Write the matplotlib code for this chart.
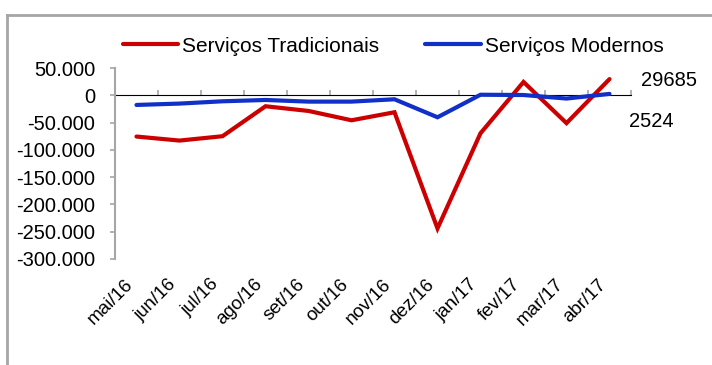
import matplotlib.pyplot as plt
from matplotlib.lines import Line2D

plt.rcParams["font.family"] = ["Liberation Sans", "DejaVu Sans"]

months = ["mai/16", "jun/16", "jul/16", "ago/16", "set/16", "out/16",
          "nov/16", "dez/16", "jan/17", "fev/17", "mar/17", "abr/17"]
tradicionais = [-75600, -83000, -75000, -20100, -28700, -45800,
                -31100, -244000, -69600, 24400, -51000, 29685]
modernos = [-17700, -15200, -11000, -8600, -11600, -11600,
            -7300, -40300, 1000, 500, -6000, 2524]
y_ticks = [50000, 0, -50000, -100000, -150000, -200000, -250000, -300000]

RED = "#cc0000"
BLUE = "#1030c8"
GRAY = "#a6a6a6"
FS = 14.5

fig = plt.figure(figsize=(7.12, 3.65), dpi=100)
ax = fig.add_axes([115 / 712, 1 - 259 / 365, 516 / 712, 191 / 365])

x = [i + 0.5 for i in range(len(months))]
ax.plot(x, tradicionais, color=RED, lw=3.0, solid_capstyle="round",
        solid_joinstyle="miter", label="Serviços Tradicionais", zorder=3)
ax.plot(x, modernos, color=BLUE, lw=3.0, solid_capstyle="round",
        solid_joinstyle="miter", label="Serviços Modernos", zorder=3)

ymin, ymax = min(y_ticks), max(y_ticks)
ax.set_xlim(0, len(months))
ax.set_ylim(ymin, ymax)

# y axis: gray spine, outward ticks, dotted-thousands labels
for side in ("top", "right", "bottom"):
    ax.spines[side].set_visible(False)
ax.spines["left"].set_color(GRAY)
ax.spines["left"].set_linewidth(1.5)
ax.set_yticks(y_ticks)
ax.set_yticklabels([f"{v:,}".replace(",", ".") for v in y_ticks])
ax.tick_params(axis="y", direction="out", length=3.6, width=1.2, color=GRAY,
               pad=10.5, labelsize=FS)

# month labels under the plot area
ax.set_xticks(x)
ax.set_xticklabels(months, rotation=45, ha="right")
ax.tick_params(axis="x", length=0, pad=12, labelsize=13.5)

# category axis drawn along y = 0
zero_loc = (0 - ymin) / (ymax - ymin)
sec = ax.secondary_xaxis(zero_loc)
sec.set_xticks(range(len(months) + 1))
sec.set_xticklabels([])
sec.tick_params(direction="out", length=3.6, width=1.2, color=GRAY)
sec.spines["bottom"].set_color(GRAY)
sec.spines["bottom"].set_linewidth(1.5)
sec.set_zorder(1)

# end-of-series value labels
ax.annotate(f"{tradicionais[-1]}", (x[-1], tradicionais[-1]),
            xytext=(31, -1), textcoords="offset pixels",
            ha="left", va="center", fontsize=FS, annotation_clip=False)
ax.annotate(f"{modernos[-1]}", (x[-1], modernos[-1]),
            xytext=(19, -28), textcoords="offset pixels",
            ha="left", va="center", fontsize=FS, annotation_clip=False)

fig.legend(loc="center left", bbox_to_anchor=(123 / 712, 1 - 46 / 365),
           ncol=2, frameon=False, fontsize=15, borderpad=0, borderaxespad=0,
           handlelength=2.65, handletextpad=0.2, columnspacing=2.2)

# chart frame (left and top edges)
fx, fy = 7 / 712, 1 - 15 / 365
fig.add_artist(Line2D([fx, fx], [0, fy], color=GRAY, lw=2.0))
fig.add_artist(Line2D([fx, 1], [fy, fy], color=GRAY, lw=2.0))

fig.savefig("out.png", dpi=100)
